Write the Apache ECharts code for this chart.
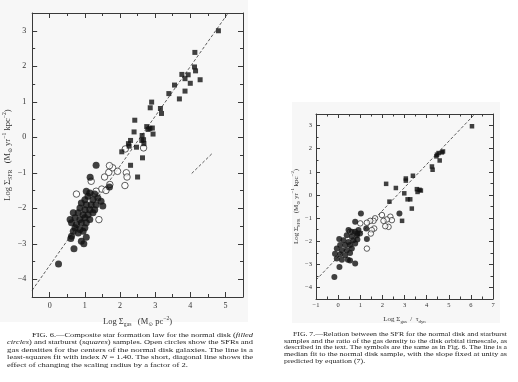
<!DOCTYPE html>
<html><head><meta charset="utf-8">
<script src="https://cdn.jsdelivr.net/npm/echarts@6/dist/echarts.min.js"></script>
<style>html,body{margin:0;padding:0;background:#fff}#c{width:518px;height:382px}</style>
</head><body><div id="c"></div>
<script>
// ---------- DATA: Fig. 6 (left) ----------
const fig6Starburst = [[4.80,3.00],[4.13,2.39],[4.12,1.98],[4.15,1.87],[4.28,1.62],[3.76,1.77],[3.85,1.65],[3.94,1.76],[4.00,1.52],[3.55,1.47],[3.85,1.30],[3.39,1.23],[3.69,1.08],[2.90,0.99],[2.86,0.83],[3.15,0.81],[3.18,0.67],[2.42,0.48],[2.76,0.30],[2.85,0.25],[2.92,0.26],[2.80,0.22],[2.94,0.09],[2.40,0.15],[2.63,0.05],[2.67,-0.07],[2.30,-0.09],[2.62,-0.09],[2.26,-0.25],[2.24,-0.18],[2.47,-0.28],[2.05,-0.41],[2.64,-0.58],[2.68,-0.18],[2.30,-0.79],[2.50,-1.12]];
const fig6Disk = [[1.32,-0.79],[1.15,-1.13],[1.70,-1.40],[1.04,-1.52],[1.14,-1.57],[1.28,-1.60],[1.09,-1.66],[1.00,-1.76],[1.23,-1.76],[1.37,-1.71],[1.46,-1.80],[1.51,-1.94],[0.90,-1.85],[1.04,-1.90],[1.18,-1.90],[1.32,-1.90],[0.86,-1.99],[1.00,-2.04],[1.14,-2.04],[1.28,-2.04],[0.67,-2.13],[0.81,-2.13],[0.95,-2.18],[1.09,-2.18],[1.23,-2.13],[0.58,-2.32],[0.72,-2.27],[0.86,-2.32],[1.00,-2.27],[1.14,-2.32],[0.62,-2.41],[0.76,-2.46],[0.90,-2.41],[1.04,-2.41],[0.72,-2.55],[0.86,-2.60],[1.00,-2.55],[0.67,-2.65],[0.81,-2.70],[0.95,-2.65],[0.62,-2.79],[0.60,-2.85],[1.04,-2.82],[0.90,-2.93],[0.97,-3.00],[0.69,-3.14],[0.25,-3.57]];
const fig6Centers = [[1.56,-1.12],[1.68,-0.99],[1.79,-0.86],[1.93,-0.96],[1.70,-0.80],[2.18,-1.00],[2.20,-1.12],[2.14,-1.36],[1.48,-1.46],[1.71,-1.33],[1.60,-1.50],[0.76,-1.60],[1.18,-1.24],[1.32,-1.52],[1.40,-2.32],[2.15,-0.33],[2.67,-0.30]];
const fig6FitSlope = 1.40, fig6FitIntercept = -3.61, fig6FitRange = [-0.5, 5.08];
const fig6ShortLine = [[4.04,-1.02],[4.64,-0.44]];
const fig6XTicks = [0,1,2,3,4,5], fig6XMinor = [0.5,1.5,2.5,3.5,4.5];
const fig6YTicks = [-4,-3,-2,-1,0,1,2,3], fig6YMinor = [-3.5,-2.5,-1.5,-0.5,0.5,1.5,2.5];

// ---------- DATA: Fig. 7 (right) ----------
const fig7Starburst = [[6.05,2.97],[4.47,1.74],[4.54,1.81],[4.69,1.84],[4.74,1.88],[4.44,1.67],[4.59,1.49],[4.24,1.23],[4.27,1.09],[3.38,0.83],[3.06,0.71],[3.06,0.62],[2.17,0.48],[2.61,0.30],[3.56,0.25],[3.68,0.22],[3.59,0.13],[3.74,0.19],[2.99,0.07],[3.14,-0.19],[3.26,-0.19],[3.33,-0.59],[2.32,-0.29],[2.89,-1.12]];
const fig7Disk = [[2.77,-0.80],[1.03,-0.80],[0.77,-1.16],[1.27,-1.45],[1.30,-1.91],[0.05,-1.91],[0.87,-1.67],[0.47,-1.52],[0.62,-1.59],[0.77,-1.59],[0.92,-1.52],[0.39,-1.74],[0.62,-1.81],[0.85,-1.74],[0.99,-1.67],[0.24,-1.96],[0.47,-2.03],[0.69,-1.96],[0.87,-1.93],[0.09,-2.17],[0.32,-2.17],[0.54,-2.17],[0.77,-2.10],[-0.06,-2.32],[0.17,-2.39],[0.39,-2.39],[0.62,-2.32],[-0.14,-2.54],[0.09,-2.57],[0.32,-2.61],[0.54,-2.51],[-0.06,-2.75],[0.17,-2.80],[0.54,-2.83],[0.06,-3.12],[0.44,-2.80],[0.77,-2.97],[-0.17,-3.55]];
const fig7Centers = [[1.98,-0.87],[2.36,-0.94],[2.43,-1.09],[2.20,-1.06],[2.05,-1.12],[2.28,-1.38],[2.13,-1.35],[1.67,-1.01],[1.60,-1.12],[1.45,-1.12],[1.30,-1.20],[1.63,-1.45],[1.52,-1.52],[1.48,-1.67],[1.30,-2.32],[1.00,-1.23],[0.54,-1.59]];
const fig7FitSlope = 1.0, fig7FitIntercept = -2.68, fig7FitRange = [-1, 6.18];
const fig7XTicks = [-1,0,1,2,3,4,5,6,7], fig7XMinor = [-0.5,0.5,1.5,2.5,3.5,4.5,5.5,6.5];
const fig7YTicks = [-4,-3,-2,-1,0,1,2,3], fig7YMinor = [-3.5,-2.5,-1.5,-0.5,0.5,1.5,2.5];

// ---------- captions ----------
const fig6Caption = [
  [["FIG. 6.—Composite star formation law for the normal disk (",0],["filled",1]],
  [["circles",1],[") and starburst (",0],["squares",1],[") samples. Open circles show the SFRs and",0]],
  [["gas densities for the centers of the normal disk galaxies. The line is a",0]],
  [["least-squares fit with index ",0],["N",1],[" = 1.40. The short, diagonal line shows the",0]],
  [["effect of changing the scaling radius by a factor of 2.",0]]
];
const fig7Caption = [
  [["FIG. 7.—Relation between the SFR for the normal disk and starburst",0]],
  [["samples and the ratio of the gas density to the disk orbital timescale, as",0]],
  [["described in the text. The symbols are the same as in Fig. 6. The line is a",0]],
  [["median fit to the normal disk sample, with the slope fixed at unity as",0]],
  [["predicted by equation (7).",0]]
];

const SERIF = '"Liberation Serif","DejaVu Serif",serif';
const INK = '#222', AX = '#3a3a3a';

function fitLine(slope, icpt, range){ return range.map(x => [x, slope*x + icpt]); }

function axesFor(dim, grid, min, max, majors, minors, lab, name, nameGap, nameFs){
  const prim = dim === 'x' ? 'bottom' : 'left';
  const opp = dim === 'x' ? 'top' : 'right';
  const base = {type:'value', gridIndex:grid, min, max, splitLine:{show:false}, scale:true};
  const mk = (pos, ticks, len, showLine, showLabel) => Object.assign({}, base, {
    position: pos,
    axisLine:{show:showLine, onZero:false, lineStyle:{color:AX, width:1}},
    axisTick:{show:true, inside:true, length:len, customValues:ticks, lineStyle:{color:AX, width:1}},
    axisLabel:{show:showLabel, customValues:majors, fontFamily:SERIF, fontSize:lab.fs, color:'#333', margin:lab.margin,
      formatter: v => String(v).replace('-', '\u2212')},
    minorTick:{show:false}
  });
  const main = mk(prim, majors, lab.major, true, true);
  main.name = name; main.nameLocation = 'middle'; main.nameGap = nameGap;
  const sub = {fontSize: nameFs*0.68, fontFamily:SERIF, color:'#333', verticalAlign:'bottom', lineHeight: nameFs*0.7};
  const sup = {fontSize: nameFs*0.68, fontFamily:SERIF, color:'#333', verticalAlign:'top', lineHeight: nameFs*0.7};
  main.nameTextStyle = {fontFamily:SERIF, fontSize:nameFs, color:'#333', lineHeight: nameFs*1.5, rich:{sub, sup}};
  return [main, mk(prim, minors, lab.minor, false, false), mk(opp, majors, lab.major, true, false), mk(opp, minors, lab.minor, false, false)];
}

const xAxes = [].concat(
  axesFor('x', 0, -0.5, 5.5, fig6XTicks, fig6XMinor, {fs:8, margin:5, major:5, minor:3},
    'Log Σ{sub|gas}   (M{sub|⊙} pc{sup|−2})', 18, 8.5),
  axesFor('x', 1, -1, 7, fig7XTicks, fig7XMinor, {fs:6.5, margin:3, major:4, minor:2.5},
    'Log Σ{sub|gas}  /  τ{sub|dyn}', 15, 7)
);
const yAxes = [].concat(
  axesFor('y', 0, -4.5, 3.5, fig6YTicks, fig6YMinor, {fs:8, margin:6, major:5, minor:3},
    'Log Σ{sub|SFR}   (M{sub|⊙} yr{sup|−1} kpc{sup|−2})', 13, 8.5),
  axesFor('y', 1, -4.5, 3.5, fig7YTicks, fig7YMinor, {fs:6.5, margin:4, major:4, minor:2.5},
    'Log Σ{sub|SFR}   (M{sub|⊙} yr{sup|−1} kpc{sup|−2})', 11, 7)
);

function scat(data, g, kind, size){
  const s = {type:'scatter', data, xAxisIndex: g*4, yAxisIndex: g*4, symbolSize:size, silent:true, clip:true};
  if (kind === 'disk') { s.symbol='circle'; s.itemStyle={color:'#111'}; s.z=4; }
  if (kind === 'sb') { s.symbol='rect'; s.itemStyle={color:'#111'}; s.z=4; }
  if (kind === 'ctr') { s.symbol='circle'; s.itemStyle={color:'rgba(255,255,255,0.9)', borderColor:'#222', borderWidth:0.9}; s.z=3; }
  return s;
}
function line(data, g){
  return {type:'line', data, xAxisIndex:g*4, yAxisIndex:g*4, symbol:'none', silent:true, clip:true, z:2,
    lineStyle:{color:'#333', width:0.8, type:[3,2]}};
}

function captionEls(lines, x0, x1, indentX, y0, dy, fs){
  const ctx = document.createElement('canvas').getContext('2d');
  const fam = '"Liberation Serif"';
  const els = []; const scales = [];
  const built = lines.map((segs, i) => {
    const sx0 = i === 0 ? indentX : x0;
    let w = 0, str = '';
    segs.forEach(([t, it]) => {
      ctx.font = (it ? 'italic ' : '') + fs + 'px ' + fam;
      w += ctx.measureText(t).width;
      str += '{' + (it ? 'i' : 'n') + '|' + t + '}';
    });
    const sc = (x1 - sx0) / w;
    if (i < lines.length - 1) scales.push(sc);
    return {sx0, str, sc};
  });
  const avg = scales.reduce((a,b)=>a+b,0)/scales.length;
  built.forEach((b, i) => {
    const sc = i === lines.length - 1 ? avg : b.sc;
    els.push({type:'text', x:b.sx0, y:y0 + i*dy, scaleX:sc, z:100, silent:true,
      style:{text:b.str, fill:'#222', verticalAlign:'middle', align:'left',
        rich:{n:{fontFamily:SERIF, fontSize:fs, fill:'#222'}, i:{fontFamily:SERIF, fontStyle:'italic', fontSize:fs, fill:'#222'}}}});
  });
  return els;
}

const chart = echarts.init(document.getElementById('c'), null, {renderer:'canvas'});
chart.setOption({
  animation:false,
  backgroundColor:'#ffffff',
  grid:[
    {left:28, top:13, width:215, height:284, containLabel:false},
    {left:316, top:114, width:177, height:185, containLabel:false}
  ],
  xAxis: xAxes,
  yAxis: yAxes,
  graphic:[
    {type:'rect', shape:{x:0, y:0, width:248, height:322}, style:{fill:'#f7f7f7'}, z:-10, silent:true},
    {type:'rect', shape:{x:292, y:102, width:208, height:221}, style:{fill:'#f7f7f7'}, z:-10, silent:true}
  ].concat(
    captionEls(fig6Caption, 7, 253, 32, 335, 7.5, 7),
    captionEls(fig7Caption, 284, 507, 293, 334.3, 6.7, 6.2)
  ),
  series:[
    line(fitLine(fig6FitSlope, fig6FitIntercept, fig6FitRange), 0),
    line(fig6ShortLine, 0),
    scat(fig6Centers, 0, 'ctr', 6.5),
    scat(fig6Disk, 0, 'disk', 7),
    scat(fig6Starburst, 0, 'sb', 5),
    line(fitLine(fig7FitSlope, fig7FitIntercept, fig7FitRange), 1),
    scat(fig7Centers, 1, 'ctr', 5.5),
    scat(fig7Disk, 1, 'disk', 6),
    scat(fig7Starburst, 1, 'sb', 4.5)
  ]
});
</script></body></html>
